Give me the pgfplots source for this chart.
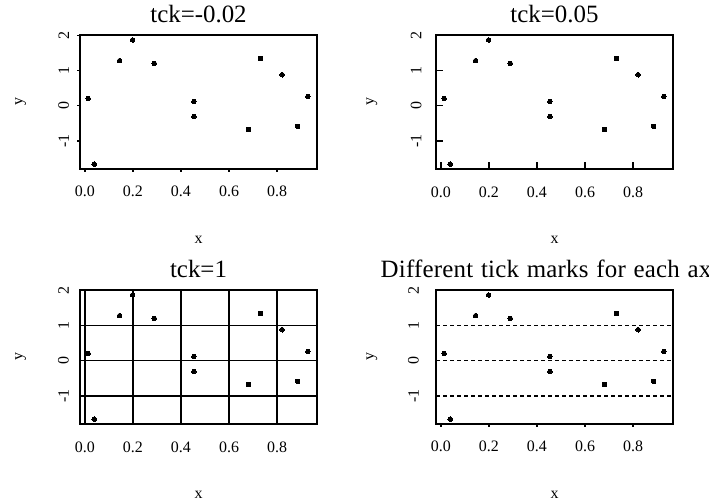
\documentclass[border=0pt]{standalone}
\usepackage{fontspec}
\setmainfont{Liberation Serif}
\newfontfamily\widetitle[LetterSpace=0.9,WordSpace=1.2]{Liberation Serif}
\usepackage{pgfplots}
\usepackage{pgfplotstable}
\pgfplotsset{compat=1.18}
\pgfplotstableread{
x y
0.014 0.20
0.039 -1.665
0.145 1.28
0.199 1.87
0.289 1.20
0.454 0.12
0.454 -0.31
0.681 -0.68
0.731 1.34
0.821 0.88
0.885 -0.59
0.928 0.26
}\pts
\pgfplotsset{
  rbase/.style={
    scale only axis, width=237bp, height=134bp,
    anchor=north west,
    xmin=-0.02, xmax=0.966, ymin=-1.806, ymax=2.011,
    xtick={0,0.2,0.4,0.6,0.8}, ytick={-1,0,1,2},
    xticklabels={0.0,0.2,0.4,0.6,0.8}, yticklabels={-1,0,1,2},
    tick pos=left,
    axis line style={line width=1.7bp, black},
    every tick/.style={line width=1.7bp, black},
    tick label style={font=\fontsize{16}{16}\selectfont, black},
    yticklabel style={rotate=90, anchor=south},
    xlabel={x}, ylabel={y},
    every axis x label/.style={at={(axis description cs:0.5,-0.53)}, anchor=center, font=\fontsize{16}{16}\selectfont},
    every axis y label/.style={at={(axis description cs:-0.25,0.5)}, anchor=center, rotate=90, font=\fontsize{16}{16}\selectfont},
    title style={at={(axis description cs:0.5,1)}, anchor=base, yshift=7bp, font=\fontsize{25}{25}\selectfont},
    clip=false,
  },
  pts/.style={only marks, mark=*, mark size=2.3bp, black, mark options={fill=black, draw=black, line width=0pt}},
}
\begin{document}
\begin{tikzpicture}
\useasboundingbox (0bp,0bp) rectangle (709bp,500bp);
% panel 1
\begin{axis}[rbase, at={(80bp,465bp)}, title={tck=-0.02},
  tick align=outside, major tick length=2.7bp,
  xticklabel shift=11bp, yticklabel shift=4.7bp]
\addplot[pts] table {\pts};
\end{axis}
% panel 2
\begin{axis}[rbase, at={(436bp,465bp)}, title={tck=0.05},
  tick align=inside, major tick length=6.7bp,
  xticklabel shift=14bp, yticklabel shift=11bp,
  every axis y label/.style={at={(axis description cs:-0.27,0.5)}, anchor=center, rotate=90, font=\fontsize{16}{16}\selectfont}]
\addplot[pts] table {\pts};
\end{axis}
% panel 3
\begin{axis}[rbase, at={(80bp,210bp)}, title={tck=1},
  tick align=inside, major tick length=0bp,
  grid=major, grid style={line width=1.7bp, black, solid},
  xticklabel shift=14bp, yticklabel shift=7.7bp]
\addplot[pts] table {\pts};
\end{axis}
% panel 4
\begin{axis}[rbase, at={(436bp,210bp)}, title={Different tick marks for each axis},
  title style={font=\widetitle\fontsize{25}{25}\selectfont},
  tick align=outside, major tick length=2.7bp,
  ymajorgrids=true, ytick style={draw=none},
  grid style={line width=1.7bp, black, dash pattern=on 4bp off 3bp},
  xticklabel shift=11bp, yticklabel shift=11bp,
  every axis y label/.style={at={(axis description cs:-0.27,0.5)}, anchor=center, rotate=90, font=\fontsize{16}{16}\selectfont}]
\addplot[pts] table {\pts};
\end{axis}
\end{tikzpicture}
\end{document}
